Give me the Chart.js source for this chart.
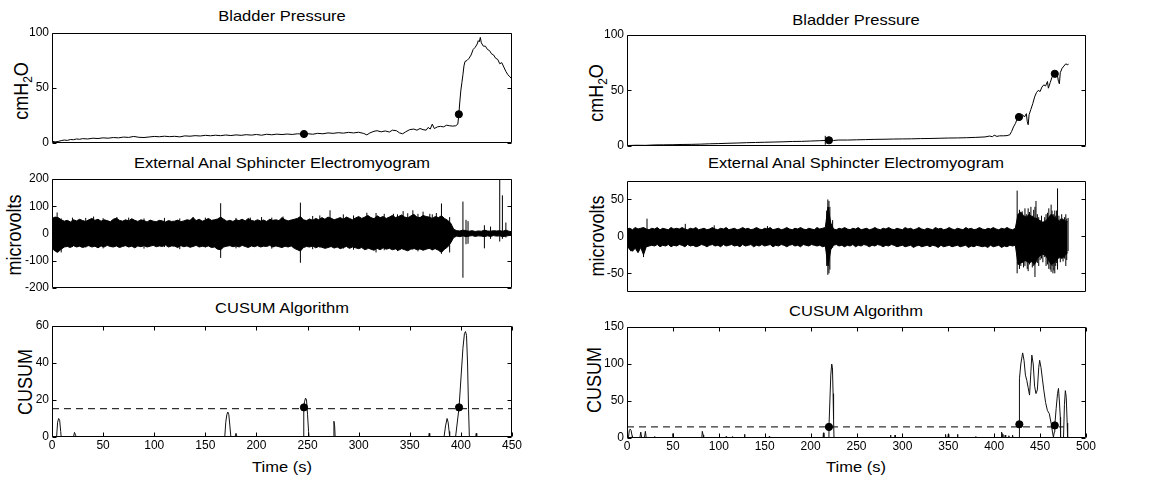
<!DOCTYPE html>
<html><head><meta charset="utf-8">
<script src="https://cdn.jsdelivr.net/npm/chart.js@4.4.1/dist/chart.umd.min.js"></script>
<style>
html,body{margin:0;padding:0;background:#fff}
#wrap{position:relative;width:1161px;height:483px;overflow:hidden;background:#fff}
canvas{position:absolute}
.t{position:absolute;font-family:'Liberation Sans',Arial,sans-serif;font-size:15px;line-height:15px;white-space:nowrap;color:#000;transform:translateX(-50%) scaleX(1.1)}
.yl{position:absolute;font-family:'Liberation Sans',Arial,sans-serif;font-size:18px;line-height:18px;white-space:nowrap;color:#000;transform:translate(-50%,-50%) rotate(-90deg) scaleY(1.1)}
.yl sub{font-size:12px;line-height:0;vertical-align:-4px}
</style></head>
<body><div id="wrap">
<div class="t" style="left:282px;top:8px">Bladder Pressure</div>
<div class="t" style="left:282px;top:155px">External Anal Sphincter Electromyogram</div>
<div class="t" style="left:282px;top:300px">CUSUM Algorithm</div>
<div class="t" style="left:282px;top:459px">Time (s)</div>
<div class="t" style="left:856px;top:12px">Bladder Pressure</div>
<div class="t" style="left:856px;top:155px">External Anal Sphincter Electromyogram</div>
<div class="t" style="left:856px;top:303px">CUSUM Algorithm</div>
<div class="t" style="left:856px;top:459px">Time (s)</div>
<div class="yl" style="left:21px;top:91px">cmH<sub>2</sub>O</div>
<div class="yl" style="left:14px;top:235px">microvolts</div>
<div class="yl" style="left:25px;top:382px">CUSUM</div>
<div class="yl" style="left:596px;top:93px">cmH<sub>2</sub>O</div>
<div class="yl" style="left:597px;top:236px">microvolts</div>
<div class="yl" style="left:594px;top:380px">CUSUM</div>
</div>
<script>
// ---------------- DATA ----------------
// Left column: bladder pressure (cmH2O) vs time (s)
const LBP_T = [0,3,6,9,12,15,18,21,24,27,
 30,35,40,45,50,55,60,65,70,75,
 80,85,90,95,100,105,110,115,120,125,
 130,135,140,145,150,155,160,165,170,175,
 180,185,190,195,200,205,210,215,220,225,
 230,235,240,245,250,255,260,265,270,275,
 280,285,290,295,300,305,308,311,315,318,
 322,326,330,333,337,340,343,346,350,354,
 357,360,363,366,368,370,372,374,377,380,
 383,386,389,392,395,397,398,399,400,401,
 402,403,404,406,408,410,412,414,416,417,
 418,419,420,422,424,426,428,430,432,434,
 436,438,440,442,444,446,448,450];
const LBP_V = [1.5,0.8,1.2,2,2.5,2.2,3,2.8,3.5,3.2,
 3.8,3.5,4.2,3.9,4.5,4.2,4.8,4.5,5.2,4.9,
 5.8,5,4.8,5.3,5.8,5.5,6,5.6,5.9,5.4,
 6.3,6,6.5,6.2,6.8,6.4,6.9,6.5,7.1,6.6,
 7.2,6.8,7.4,7,7.6,6.9,7.8,7.3,7.9,7.5,
 8,7.6,8.2,8,8.3,7.8,8.6,8.2,9,8.6,
 9.2,8.8,9.5,9,9.6,8.5,7.2,9,10.5,11,
 10,10.8,9.8,11.5,11,9,8.2,10,12,12.5,
 11.5,13,12,11.5,14,12.5,17,13,14.5,15,
 14.5,16,15.5,15.2,15.5,17,26,38,48,55,
 62,70,74,75,77,80,85,87,90,93,
 92,96,91,88,88,85,84,81,80,77,
 76,72,73,69,65,62,60,58];
const LBP_DOT_T = [246.5, 398];
const LBP_DOT_V = [8, 26];

// Left column: EMG envelope (microvolts), sampled every 3 s from 0 to 450 s
const LEMG_STEP = 3;
const LEMG_HI = [55,60,58,50,45,48,42,50,46,52,
 47,44,50,55,48,52,45,50,47,43,
 52,56,48,45,50,46,54,48,44,50,
 47,42,49,45,43,48,46,42,47,44,
 45,49,43,46,50,48,58,47,52,45,
 49,55,48,50,53,60,52,45,48,44,
 50,47,52,46,55,48,45,50,46,49,
 44,52,48,50,47,58,50,46,49,52,
 55,62,50,47,53,48,55,50,58,52,
 60,56,50,54,58,52,60,55,50,57,
 62,55,60,66,58,54,65,58,62,55,
 60,66,58,62,68,60,57,64,70,60,
 58,66,62,60,55,62,58,65,55,48,
 38,15,10,9,12,10,8,10,7,9,
 8,12,9,8,10,9,10,8,12,8,
 6];
const LEMG_LO = [-55,-65,-68,-58,-50,-48,-52,-45,-50,-47,
 -52,-48,-45,-50,-47,-53,-46,-50,-44,-48,
 -50,-46,-52,-48,-45,-50,-47,-53,-46,-49,
 -45,-50,-47,-44,-49,-46,-48,-43,-50,-46,
 -47,-52,-45,-49,-46,-51,-48,-44,-50,-47,
 -49,-46,-52,-50,-58,-60,-50,-47,-45,-49,
 -46,-50,-44,-48,-52,-46,-49,-45,-50,-47,
 -48,-44,-50,-46,-49,-52,-47,-50,-46,-55,
 -60,-65,-52,-48,-50,-46,-53,-48,-51,-55,
 -52,-48,-54,-50,-56,-52,-48,-55,-50,-53,
 -56,-52,-60,-54,-58,-62,-55,-60,-53,-58,
 -55,-60,-57,-62,-56,-60,-64,-58,-55,-60,
 -57,-62,-58,-55,-60,-56,-62,-70,-58,-50,
 -35,-15,-10,-12,-9,-12,-10,-8,-11,-9,
 -10,-12,-9,-11,-8,-10,-9,-12,-10,-8,
 -7];
// Left EMG isolated spikes: time, top, bottom
const LEMG_SPK_T  = [5,9,20,33,40.7,50,63.5,75,90,110,125,138,150,165,180,194,205,215,226,243,255,262,272,285,295,308,317,325,334,338,343.5,348,353,358,363,369.6,372,376,381,389,402,405,407,423,429,438,440.6,444];
const LEMG_SPK_HI = [77,55,58,57,62,56,60,58,55,57,55,60,58,111,57,58,60,58,62,113,64,66,85,70,66,76,75,72,72,70,82,74,85,72,80,72,70,75,110,60,117,50,45,30,25,200,140,40];
const LEMG_SPK_LO = [-72,-70,-50,-52,-45,-55,-45,-50,-56,-50,-58,-45,-52,-90,-55,-45,-50,-56,-50,-108,-58,-52,-50,-56,-60,-60,-70,-62,-55,-65,-55,-60,-60,-66,-58,-55,-62,-60,-75,-70,-163,-40,-38,-55,-20,-30,-20,-15];

// Left column: CUSUM
const LCU_T = [0,4.5,5.5,6.5,7.5,8.5,9,21,22,23,
 24,169,170,171,172,173,174,175,179,180,
 181,246,246.3,247,248,249,250,251,251.5,275.3,
 275.8,276.5,277,368.5,369,369.5,383.5,385,386.5,387.5,
 388.5,389,394.8,398.2,402,403.5,404.5,405.5,406.5,407.5,
 408.3,414.5,415,415.5,450];
const LCU_V = [0,0,8,10,9,3,0,0,2.5,1,
 0,0,8,12,13.5,12,6,0,0,2,
 0,0,16,19,21,20,12,3,0,0,
 8.5,6,0,0,2,0,0,6,10,8,
 3,0,0,16,48,56,57,55,40,15,
 0,0,2,0,0];
const LCU_DOT_T = [246.5, 398.2];
const LCU_DOT_V = [16, 16];
const LCU_THR_T = [0, 450];
const LCU_THR_V = [15.3, 15.3];

// Right column: bladder pressure
const RBP_T = [0,10,20,30,40,50,60,70,80,90,
 100,110,120,130,140,150,160,170,180,190,
 200,210,216,220,225,230,240,250,260,270,
 280,290,300,310,320,330,340,350,360,370,
 380,390,395,398,400,403,406,410,414,417,
 419,421,423,425,427,429,431,433,435,436,
 437,438,440,442,444,446,448,450,452,454,
 456,458,459,461,463,465,467,469,470,471,
 472,474,476,478,480,481];
const RBP_V = [0.2,0.5,0.4,0.8,0.9,1,1.2,1.3,1.5,1.8,
 2,2.3,2.5,2.8,3,3.2,3.4,3.6,3.9,4,
 4.3,4.6,4.8,5,4.8,5.2,5.2,5.4,5.6,5.8,
 5.9,6.1,6.2,6.3,6.5,6.6,6.8,7,7.1,7.3,
 7.6,8,8.8,8.2,9.5,8.5,9,9,9.2,10,
 13,17,20,24,26,27,28,26,29,22,
 19,28,33,38,44,48,50,49,53,55,
 54,58,52,57,62,65,64,63,58,56,
 66,70,72,74,73,74];
const RBP_BAR_T = [216, 216];
const RBP_BAR_V = [1, 9];
const RBP_DOT_T = [220, 427, 466];
const RBP_DOT_V = [5, 26, 65];

// Right column: EMG envelope, every 3 s from 0 to 480 s
const REMG_STEP = 3;
const REMG_HI = [10,11,9,12,10,11,12,10,9,11,
 10,12,9,11,10,9,12,10,11,10,
 12,10,9,11,10,12,9,10,11,9,
 10,12,10,9,11,10,12,9,10,11,
 9,10,12,10,11,9,10,12,10,9,
 11,10,12,9,10,11,9,10,12,10,
 9,11,10,12,10,9,11,10,9,12,
 10,11,12,40,18,10,9,11,10,12,
 10,9,11,10,12,9,10,11,9,10,
 12,10,9,11,10,12,10,9,11,10,
 9,12,10,11,9,10,12,10,9,11,
 10,9,12,10,11,9,10,12,10,9,
 11,10,9,12,10,11,9,10,12,10,
 9,11,10,12,10,9,11,10,12,10,
 9,11,30,33,28,26,30,27,25,24,
 21,19,21,25,30,26,24,21,24,21,
 20];
const REMG_LO = [-12,-18,-20,-16,-22,-15,-25,-14,-13,-12,
 -13,-11,-14,-12,-13,-11,-14,-12,-13,-11,
 -12,-14,-11,-13,-12,-14,-13,-11,-12,-14,
 -12,-11,-13,-12,-14,-11,-13,-12,-11,-13,
 -12,-14,-11,-13,-12,-11,-14,-12,-13,-11,
 -13,-12,-11,-14,-12,-13,-11,-12,-14,-12,
 -11,-13,-12,-14,-11,-12,-13,-11,-12,-13,
 -12,-14,-13,-40,-18,-12,-11,-13,-12,-14,
 -12,-13,-11,-14,-12,-13,-11,-12,-14,-12,
 -13,-11,-12,-14,-12,-13,-11,-12,-14,-13,
 -12,-14,-13,-12,-15,-13,-12,-14,-13,-12,
 -14,-12,-13,-15,-12,-14,-13,-12,-14,-13,
 -12,-14,-13,-12,-15,-13,-14,-12,-13,-14,
 -13,-15,-12,-14,-13,-12,-15,-13,-14,-12,
 -13,-12,-38,-36,-34,-32,-36,-34,-38,-30,
 -26,-24,-26,-32,-38,-36,-32,-28,-30,-26,
 -22];
const REMG_SPK_T  = [4,18,21.8,63.5,95,153,217.5,218.8,220,221,224,
 425,426,427.5,429,430.5,432,433.5,435,436,437,438.5,440,441.5,443,444.4,445.5,447,448.5,450,451.5,453,455,456.5,458,459.5,461,462,463,464,465,466,467,468,469,470.5,472,473.5,475,476.5,478,479,480.5];
const REMG_SPK_HI = [10,12,24,17,15,14,35,50,48,40,22,
 62,30,36,28,34,26,38,30,25,38,33,40,28,36,40,48,30,26,22,28,20,26,30,32,38,28,43,35,30,30,35,28,35,65,28,24,30,22,26,30,24,25];
const REMG_SPK_LO = [-20,-28,-14,-12,-12,-12,-40,-52,-50,-45,-15,
 -50,-38,-44,-40,-36,-42,-40,-35,-44,-47,-38,-30,-42,-40,-55,-35,-36,-40,-32,-30,-35,-28,-40,-38,-44,-45,-48,-40,-50,-46,-50,-40,-36,-45,-30,-35,-28,-34,-30,-40,-32,-20];

// Right column: CUSUM
const RCU_T = [0,1.5,2.5,3.5,4.5,5.5,6,14,15,16,
 19,20,21,29.5,30,30.5,49.5,50,50.5,81.5,
 82,83,83.5,107.5,108,108.5,114.5,115,115.5,127.5,
 128,128.5,154.5,155,155.5,213.5,214,214.5,219,220,
 221,222,223,223.8,224.5,225,225.5,286.5,287,287.5,
 291.5,292,292.5,346.5,347,347.5,349.5,350,350.5,359.5,
 360,360.5,379.5,380,380.5,407.5,408,409,409.5,411.5,
 412,412.5,415.5,416,416.5,419.5,420,420.5,427.3,427.4,
 427.6,429,431,432.5,434,435.5,437,438.5,440,441,
 442.5,444,445.5,447,448.5,449.5,451,452.5,454,456,
 458,460,462,463.5,464.5,465.5,466,467.5,469,470,
 471,472,472.3,475.5,476.5,477.5,478.5,479.5,480,481];
const RCU_V = [0,0,10,12,10,3,0,0,8,0,
 0,9,0,0,2,0,0,6,0,0,
 9,4,0,0,2,0,0,2,0,0,
 5,0,0,2,0,0,7,0,0,15,
 50,85,100,95,60,25,0,0,4,0,
 0,4,0,0,5,0,0,5,0,0,
 5,0,0,2,0,0,8,5,0,0,
 4,0,0,3,0,0,4,0,0,18,
 80,100,115,105,85,78,68,58,90,112,
 100,70,60,65,95,105,95,80,65,48,
 37,33,20,8,1,8,17,40,60,67,
 50,28,0,0,45,64,55,20,0,0];
const RCU_DOT_T = [220, 427.4, 466];
const RCU_DOT_V = [15, 18.5, 17];
const RCU_THR_T = [0, 475.7];
const RCU_THR_V = [15, 15];

// Axis ticks
const L_BP_YT = [0,50,100];
const L_EMG_YT = [-200,-100,0,100,200];
const L_CU_YT = [0,20,40,60];
const L_CU_XT = [0,50,100,150,200,250,300,350,400,450];
const R_BP_YT = [0,50,100];
const R_EMG_YT = [-50,0,50];
const R_CU_YT = [0,50,100,150];
const R_CU_XT = [0,50,100,150,200,250,300,350,400,450,500];

// ---------------- HELPERS ----------------
Chart.defaults.font.family = "'Liberation Sans', Arial, sans-serif";
Chart.defaults.font.size = 12;
Chart.defaults.color = '#000';
Chart.defaults.animation = false;

function xy(ts, vs){ return ts.map((t,i)=>({x:t,y:vs[i]})); }
function grid(step, vs){ return vs.map((v,i)=>({x:i*step,y:v})); }
function segs(ts, his, los){ const o=[]; ts.forEach((t,i)=>{o.push({x:t,y:los[i]},{x:t,y:his[i]},{x:t,y:null});}); return o; }
function line(data, extra){ return Object.assign({data, showLine:true, borderColor:'#000', backgroundColor:'#000', borderWidth:1, pointRadius:0, pointHoverRadius:0, tension:0, fill:false, spanGaps:false}, extra||{}); }
function dots(data){ return {data, showLine:false, pointRadius:3.6, pointBackgroundColor:'#000', pointBorderColor:'#000', pointBorderWidth:1}; }

const boxTicks = {
  id:'boxTicks',
  afterDatasetsDraw(chart, args, opts){
    const {ctx, chartArea:a, scales} = chart;
    const L=Math.round(a.left)+0.5, R=Math.round(a.right)-0.5, T=Math.round(a.top)+0.5, B=Math.round(a.bottom)-0.5;
    const len=4;
    ctx.save();
    ctx.strokeStyle='#000'; ctx.lineWidth=1;
    ctx.beginPath();
    ctx.rect(L,T,R-L,B-T);
    scales.y.ticks.forEach(t=>{
      const p=Math.round(scales.y.getPixelForValue(t.value))+0.5;
      ctx.moveTo(L,p); ctx.lineTo(L+len,p); ctx.moveTo(R,p); ctx.lineTo(R-len,p);
    });
    if (opts.xticks) scales.x.ticks.forEach(t=>{
      const p=Math.round(scales.x.getPixelForValue(t.value))+0.5;
      ctx.moveTo(p,B); ctx.lineTo(p,B-len); ctx.moveTo(p,T); ctx.lineTo(p,T+len);
    });
    ctx.stroke();
    ctx.restore();
  }
};

function makeChart(box, xr, yr, xt, yt, datasets){
  const padT=12, padR=24, yw=50;
  const bottom = xt.length ? 36 : 10;
  const W = (box.x1-box.x0)+yw+padR, H = (box.y1-box.y0)+padT+bottom;
  const c = document.createElement('canvas');
  c.width=W; c.height=H;
  c.style.left=(box.x0-yw)+'px'; c.style.top=(box.y0-padT)+'px';
  c.style.width=W+'px'; c.style.height=H+'px';
  document.getElementById('wrap').appendChild(c);
  new Chart(c, {
    type:'scatter',
    data:{datasets},
    plugins:[boxTicks],
    options:{
      responsive:false, devicePixelRatio:1, animation:false,
      layout:{padding:{left:0,right:padR,top:padT,bottom:0}},
      plugins:{legend:{display:false}, tooltip:{enabled:false}, title:{display:false}, boxTicks:{xticks: xt.length>0}},
      scales:{
        x:{type:'linear', min:xr[0], max:xr[1],
           afterBuildTicks:s=>{s.ticks=xt.map(v=>({value:v}));},
           afterFit:s=>{s.height=bottom;},
           ticks:{display:xt.length>0, padding:1, autoSkip:false, maxRotation:0, color:'#000', font:{size:12}},
           grid:{display:false, drawTicks:false}, border:{display:false}},
        y:{type:'linear', min:yr[0], max:yr[1],
           afterBuildTicks:s=>{s.ticks=yt.map(v=>({value:v}));},
           afterFit:s=>{s.width=yw;},
           ticks:{padding:3, autoSkip:false, color:'#000', font:{size:12}},
           grid:{display:false, drawTicks:false}, border:{display:false}}
      }
    }
  });
}

// ---------------- CHARTS ----------------
makeChart({x0:52,x1:512,y0:33,y1:143},[0,450],[0,100],[],L_BP_YT,[
  dots(xy(LBP_DOT_T,LBP_DOT_V)),
  line(xy(LBP_T,LBP_V))
]);
makeChart({x0:52,x1:512,y0:179,y1:288},[0,450],[-200,200],[],L_EMG_YT,[
  line(grid(LEMG_STEP,LEMG_HI),{fill:'+1'}),
  line(grid(LEMG_STEP,LEMG_LO)),
  line(segs(LEMG_SPK_T,LEMG_SPK_HI,LEMG_SPK_LO))
]);
makeChart({x0:52,x1:512,y0:326,y1:437},[0,450],[0,60],L_CU_XT,L_CU_YT,[
  dots(xy(LCU_DOT_T,LCU_DOT_V)),
  line(xy(LCU_T,LCU_V),{borderColor:'#111'}),
  line(xy(LCU_THR_T,LCU_THR_V),{borderDash:[7,5]})
]);
makeChart({x0:627,x1:1086,y0:35,y1:146},[0,500],[0,100],[],R_BP_YT,[
  dots(xy(RBP_DOT_T,RBP_DOT_V)),
  line(xy(RBP_T,RBP_V)),
  line(xy(RBP_BAR_T,RBP_BAR_V))
]);
makeChart({x0:627,x1:1086,y0:181,y1:292},[0,500],[-75,75],[],R_EMG_YT,[
  line(grid(REMG_STEP,REMG_HI),{fill:'+1'}),
  line(grid(REMG_STEP,REMG_LO)),
  line(segs(REMG_SPK_T,REMG_SPK_HI,REMG_SPK_LO))
]);
makeChart({x0:627,x1:1086,y0:327,y1:438},[0,500],[0,150],R_CU_XT,R_CU_YT,[
  dots(xy(RCU_DOT_T,RCU_DOT_V)),
  line(xy(RCU_T,RCU_V),{borderColor:'#111'}),
  line(xy(RCU_THR_T,RCU_THR_V),{borderDash:[7,5]})
]);
</script>
</body></html>
